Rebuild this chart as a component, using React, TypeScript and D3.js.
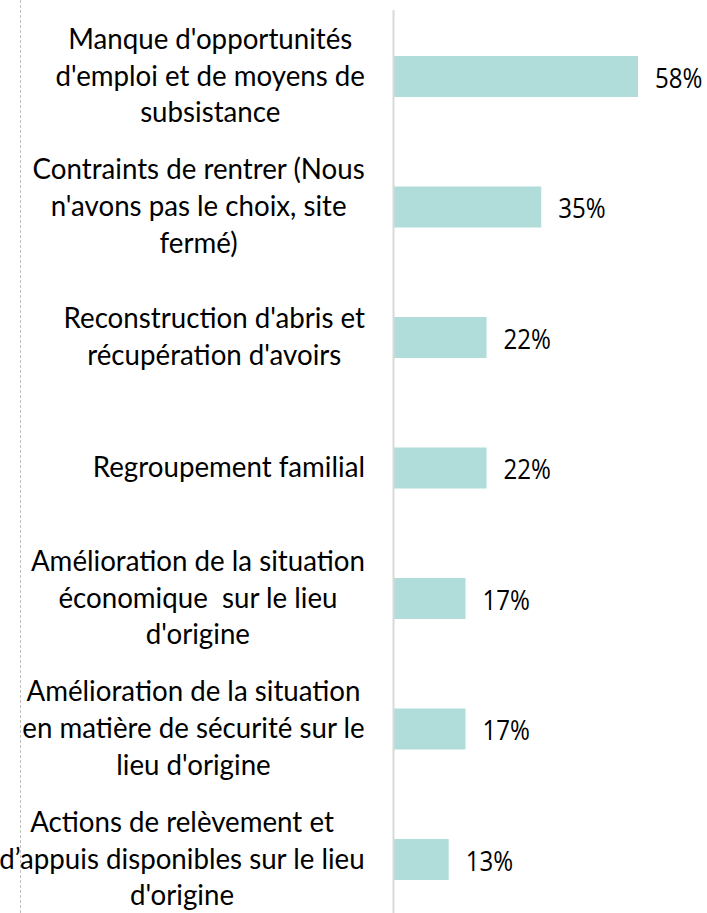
import React, { useEffect, useRef } from "react";
import * as d3 from "d3";

const categories: string[][] = [
  ["Manque d'opportunités", "d'emploi et de moyens de", "subsistance"],
  ["Contraints de rentrer (Nous", "n'avons pas le choix, site", "fermé)"],
  ["Reconstruction d'abris et", "récupération d'avoirs"],
  ["Regroupement familial"],
  ["Amélioration de la situation", "économique  sur le lieu", "d'origine"],
  ["Amélioration de la situation", "en matière de sécurité sur le", "lieu d'origine"],
  ["Actions de relèvement et", "d’appuis disponibles sur le lieu", "d'origine"],
];
const values: number[] = [58, 35, 22, 22, 17, 17, 13];
const valueLabels: string[] = ["58%", "35%", "22%", "22%", "17%", "17%", "13%"];

const W = 707;
const H = 913;
const LABEL_FONT = "29px 'Gill Sans', Lato, 'Open Sans', sans-serif";
const LABEL_SX = 0.955;
const VALUE_FONT = "28px 'Segoe UI', 'Open Sans', sans-serif";
const VALUE_SX = 0.86;

export default function App() {
  const ref = useRef<SVGSVGElement>(null);
  useEffect(() => {
    const svg = d3.select(ref.current);
    svg.selectAll("*").remove();
    const x0 = 394;
    const x = d3.scaleLinear().domain([0, 58]).range([x0, 638]);
    const y = d3
      .scaleBand<number>()
      .domain(d3.range(categories.length))
      .range([11.25, 924.75])
      .paddingInner(0.686)
      .paddingOuter(0.343);

    // left dashed border
    svg
      .append("line")
      .attr("x1", 20.5)
      .attr("x2", 20.5)
      .attr("y1", 0)
      .attr("y2", H)
      .attr("stroke", "#bfbfbf")
      .attr("stroke-width", 1)
      .attr("stroke-dasharray", "3,2");

    // bars
    svg
      .selectAll("rect.bar")
      .data(values)
      .join("rect")
      .attr("class", "bar")
      .attr("x", x0)
      .attr("y", (_, i) => y(i)!)
      .attr("width", (d) => x(d) - x0)
      .attr("height", y.bandwidth())
      .attr("fill", "#b0ddd9");

    // axis line
    svg
      .append("line")
      .attr("x1", 393.5)
      .attr("x2", 393.5)
      .attr("y1", 10)
      .attr("y2", H)
      .attr("stroke", "#d9d9d9")
      .attr("stroke-width", 2);

    // value labels
    svg
      .selectAll("text.val")
      .data(values)
      .join("text")
      .attr("class", "val")
      .attr(
        "transform",
        (d, i) =>
          `translate(${x(d) + 17},${y(i)! + y.bandwidth() / 2 + 11}) scale(${VALUE_SX},1)`
      )
      .style("font", VALUE_FONT)
      .attr("fill", "#000")
      .text((_, i) => valueLabels[i]);

    // category labels: block right aligned, lines centered within block
    const canvas = document.createElement("canvas");
    const ctx = canvas.getContext("2d")!;
    ctx.font = LABEL_FONT;
    const right = 365;
    const lh = 37;
    categories.forEach((lines, i) => {
      const maxW = d3.max(lines, (l) => ctx.measureText(l).width)!;
      const cx = right - (LABEL_SX * maxW) / 2;
      const cy = y(i)! + y.bandwidth() / 2;
      const t = svg
        .append("text")
        .attr("transform", `translate(${cx},${cy}) scale(${LABEL_SX},1)`)
        .attr("text-anchor", "middle")
        .style("font", LABEL_FONT)
        .style("white-space", "pre")
        .attr("fill", "#000");
      lines.forEach((l, j) => {
        t.append("tspan")
          .attr("x", 0)
          .attr("y", (j - (lines.length - 1) / 2) * lh + 9)
          .text(l);
      });
    });
  }, []);
  return (
    <svg
      ref={ref}
      width={W}
      height={H}
      style={{ position: "absolute", left: 0, top: 0, background: "#fff" }}
    />
  );
}
